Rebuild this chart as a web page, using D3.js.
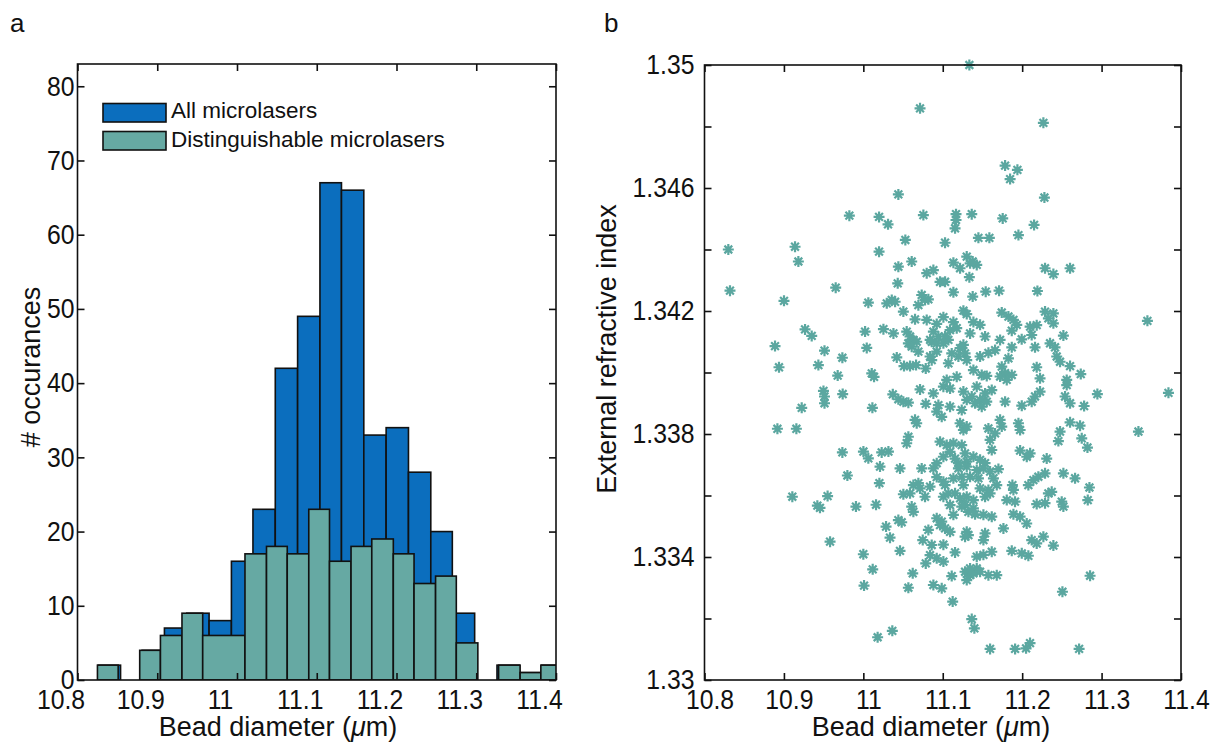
<!DOCTYPE html>
<html><head><meta charset="utf-8">
<script src="https://cdn.jsdelivr.net/npm/d3@7"></script>
<style>
body{margin:0;background:#fff}
text{font-family:"Liberation Sans",Arial,Helvetica,sans-serif;fill:#111}
</style>
</head><body>
<svg id="chart" width="1218" height="747"></svg>
<script>
// ---------- DATA ----------
const blueEdges = [10.826,10.854,10.881,10.909,10.937,10.965,10.993,11.020,11.048,11.076,11.104,11.131,11.159,11.187,11.215,11.243,11.270,11.298,11.326,11.354,11.382,11.409];
const blueCounts = [2,0,4,7,9,8,16,23,42,49,67,66,33,34,28,20,9,0,2,1,2];
const tealEdges = [10.825,10.851,10.878,10.904,10.931,10.957,11.010,11.037,11.063,11.090,11.116,11.143,11.169,11.196,11.222,11.249,11.275,11.302,11.328,11.355,11.381,11.408];
const tealCounts = [2,0,4,6,9,6,17,18,17,23,16,18,19,17,13,14,5,0,2,1,2];
const legendLabels = ["All microlasers","Distinguishable microlasers"];
const xTicks = [10.8,10.9,11,11.1,11.2,11.3,11.4];
const histYTicks = [0,10,20,30,40,50,60,70,80];
const scatYTicks = [1.33,1.332,1.334,1.336,1.338,1.34,1.342,1.344,1.346,1.348,1.35];
const scatYLabeled = [1.33,1.334,1.338,1.342,1.346,1.35];
const scatterPoints = [
[11.0714,1.34859],[11.0441,1.34579],[10.9824,1.3451],[11.0198,1.34506],[11.0311,1.34482],[11.0756,1.34512],[11.0529,1.34431],[10.830,1.3440],[10.914,1.34409],[11.0198,1.34393],
[11.1335,1.35],[11.2267,1.34812],[11.1785,1.34673],[11.194,1.34659],[11.1848,1.34629],[11.228,1.34569],[11.1167,1.34515],[11.1167,1.34496],[11.1155,1.34469],[11.1365,1.34515],[11.1755,1.34501],[11.215,1.3448],[11.1953,1.34447],[11.1449,1.34438],[11.1587,1.34438],[11.1029,1.34422],[11.1302,1.34377],
[10.9182,1.34361],[10.8321,1.34266],[10.9001,1.34233],[10.9652,1.34276],[11.0063,1.34227],[11.0441,1.34344],[11.0609,1.34361],[11.0433,1.3429],[11.0798,1.34323],[11.0295,1.34225],[11.0358,1.34236],[11.04,1.3423],[11.0735,1.34252],[11.0777,1.34236],[11.0819,1.34238],[11.0693,1.34219],[11.0504,1.34198],[11.0651,1.34173],[11.0798,1.34171],[10.9266,1.3414],[10.935,1.34119],[10.8888,1.34086],[11.0022,1.34133],[11.0253,1.34141],[11.0379,1.34127],
[11.0546,1.34133],[11.0588,1.34117],[11.063,1.34106],[11.0672,1.341],[11.0567,1.34095],[11.0609,1.34084],[11.0693,1.34068],[11.0841,1.34106],
[11.0043,1.3408],[10.9511,1.34071],[10.9736,1.34048],[10.8938,1.34017],[10.9434,1.34024],[11.0421,1.34049],[11.0512,1.34021],[11.0588,1.34021],[11.0664,1.34024],[11.0786,1.34013],[11.0861,1.3404],[10.9677,1.3399],[11.0106,1.33997],[11.0135,1.33986],[10.9498,1.3394],[10.9511,1.33922],[10.9511,1.339],[10.974,1.3393],[10.9224,1.33885],[11.0114,1.33885],[11.0371,1.33929],[11.0441,1.33913],[11.0504,1.33905],[11.0567,1.33902],[11.0714,1.33945],[11.0786,1.33898],[10.8918,1.33817],[10.9157,1.33817],[11.0651,1.33846],[11.0672,1.33835],[11.0567,1.33791],[11.0546,1.3377],[10.9736,1.3374],[11.0001,1.33743],[11.0063,1.33721],[11.0231,1.3374],[11.0316,1.33743],
[11.1134,1.34357],[11.1218,1.34339],[11.1344,1.34355],[11.1428,1.3435],[11.1377,1.34361],[11.0882,1.34333],[11.2288,1.34339],[11.2393,1.3432],[11.2603,1.34339],[11.0966,1.34295],[11.1029,1.34295],[11.1335,1.3431],
[11.1134,1.34261],[11.1377,1.34247],[11.1541,1.34263],[11.1709,1.34266],[11.2192,1.34265],
[11.126,1.34201],[11.1302,1.3419],[11.1743,1.34195],[11.1827,1.34182],[11.189,1.34171],[11.2288,1.34198],[11.2393,1.34192],[11.233,1.34176],[11.2393,1.3416],[11.1008,1.3418],[11.1134,1.34164],[11.0924,1.34158],[11.1386,1.34164],[11.147,1.34155],[11.3577,1.34168],
[11.0882,1.34133],[11.0945,1.34117],[11.0861,1.341],[11.1008,1.34095],[11.1092,1.34138],[11.1176,1.34144],[11.1344,1.34127],[11.1533,1.34117],[11.1722,1.34106],[11.1869,1.34136],[11.1994,1.34108],[11.212,1.34122],[11.2183,1.34154],[11.2519,1.3412],[11.2351,1.34095],[11.2414,1.34082],[11.2162,1.34082],
[11.1218,1.34079],[11.1281,1.34062],[11.1197,1.34052],[11.1302,1.3404],[11.0924,1.34068],[11.084,1.34052],[11.147,1.34052],[11.1575,1.34064],[11.1659,1.34073],[11.1869,1.34082],[11.1827,1.34046],[11.2435,1.34052],[11.2477,1.34035],[11.2603,1.34021],[11.1071,1.3403],
[11.1386,1.34008],[11.1491,1.33992],[11.1554,1.33989],[11.1743,1.34019],[11.1785,1.33998],[11.1869,1.33992],[11.1722,1.33987],[11.1806,1.33976],[11.2183,1.34017],[11.2225,1.33981],[11.2738,1.33995],[11.1176,1.33986],[11.105,1.33976],[11.1008,1.33954],[11.1092,1.33948],[11.0882,1.33932],[11.2561,1.33959],[11.2561,1.33976],
[11.126,1.33938],[11.1365,1.33922],[11.147,1.33911],[11.1533,1.33932],[11.1617,1.33943],[11.1407,1.339],[11.1491,1.33889],[11.1785,1.33905],[11.1995,1.33892],[11.2162,1.33922],[11.212,1.33905],[11.2225,1.33938],[11.254,1.33922],[11.2603,1.339],[11.278,1.33891],[11.2947,1.3393],[11.3842,1.33934],[11.0945,1.33894],[11.0924,1.33873],[11.1239,1.33878],[11.1092,1.33889],
[11.0987,1.33856],[11.1218,1.33835],[11.126,1.33813],[11.1302,1.33824],[11.1575,1.33818],[11.1659,1.33802],[11.1722,1.33846],[11.1743,1.33824],[11.1953,1.33835],[11.1974,1.33813],[11.2603,1.33838],[11.2729,1.33827],[11.3464,1.33808],[11.2477,1.33808],[11.2456,1.33777],[11.275,1.33786],[11.2822,1.33756],
[11.0966,1.33775],[11.105,1.33764],[11.1134,1.3377],[11.1239,1.33764],[11.1092,1.33742],[11.1596,1.33781],[11.1617,1.33748],[11.1974,1.33746],[11.2058,1.33726],[11.21,1.33737],[11.2309,1.3372],[11.0924,1.33705],[11.1197,1.33705],[11.1302,1.3371],[11.147,1.33716],[11.1533,1.33705],
[10.9799,1.33665],[11.021,1.33694],[11.0462,1.33688],[11.0735,1.33688],[11.0202,1.3364],[10.9106,1.33596],[10.955,1.33598],[10.9421,1.33567],[10.9454,1.3356],[10.9907,1.33564],[11.016,1.3357],[11.0504,1.33604],[11.0588,1.33607],[11.063,1.33634],[11.0693,1.3364],[11.0714,1.33623],[11.0777,1.33596],[11.0609,1.33564],[11.063,1.33547],[11.0286,1.33499],[11.0336,1.33463],[11.0441,1.3352],[11.0483,1.33513],[10.9581,1.3345],[11.0,1.33409],[11.0462,1.3342],[11.0118,1.3336],[11.0009,1.33307],[11.0622,1.33347],[11.0567,1.333],[11.0748,1.33455],[11.0819,1.33488],[11.0786,1.33379],[11.018,1.33139],[11.0365,1.3316],
[11.0924,1.3366],[11.1008,1.33645],[11.1197,1.33688],[11.1302,1.33694],[11.1428,1.33683],[11.1512,1.33688],[11.1596,1.33678],[11.1701,1.33686],[11.1134,1.33656],[11.1239,1.33661],[11.1344,1.33661],[11.1449,1.33656],[11.1638,1.33656],[11.084,1.33629],[11.1029,1.33634],[11.1155,1.33607],[11.1218,1.33591],[11.1302,1.33596],[11.1386,1.33585],[11.1281,1.33569],[11.1386,1.33558],[11.1008,1.33596],[11.1575,1.33618],[11.1596,1.33607],[11.1877,1.33634],[11.189,1.33618],[11.1806,1.33585],[11.191,1.3358],[11.2078,1.33634],[11.2141,1.3365],[11.2204,1.33661],[11.2288,1.33672],[11.2519,1.33672],[11.2666,1.33656],[11.2847,1.33626],[11.2826,1.33585],[11.2372,1.33612],[11.233,1.33607],[11.2183,1.33572],[11.2288,1.33575],[11.2498,1.3358],[11.2519,1.33564],[11.189,1.33539],[11.1974,1.33531],[11.2057,1.33509],[11.1512,1.33537],[11.1617,1.33531],[11.1407,1.33539],[11.0924,1.33526],[11.0966,1.33504],[11.1029,1.33493],[11.1092,1.33482],[11.1134,1.33537],[11.1764,1.33493],[11.1302,1.33482],[11.1323,1.33471],[11.1281,1.33466],[11.1533,1.33477],[11.1512,1.33455],[11.212,1.33455],[11.2183,1.33444],[11.2267,1.33466],[11.2393,1.33437],[11.1008,1.3344],[11.0861,1.33439],[11.084,1.33406],[11.0924,1.33396],[11.1008,1.33385],[11.1155,1.33415],[11.1428,1.33401],[11.1512,1.33407],[11.1617,1.33417],[11.1869,1.3342],[11.1995,1.33412],[11.2078,1.33404],[11.1113,1.33338],[11.1281,1.33352],[11.1344,1.33341],[11.1428,1.33363],[11.1302,1.33325],[11.1386,1.33347],[11.1575,1.33341],[11.168,1.33341],[11.0882,1.33309],[11.0987,1.33298],[11.2855,1.33339],[11.2507,1.33287],[11.1125,1.33255],[11.1365,1.33198],[11.1398,1.33168],[11.1596,1.33101],[11.1911,1.33101],[11.2049,1.33103],[11.2099,1.3312],[11.2717,1.33101],
[11.126,1.33634],[11.147,1.33623],[11.1533,1.33596],[11.1239,1.33564],[11.1323,1.33547],[11.1092,1.33569],[11.1071,1.33607],[11.168,1.33634],[11.1344,1.33363],[11.147,1.33352],[11.1029,1.34117],[11.0924,1.34095],[11.1071,1.34106],[11.1113,1.34062],[11.126,1.3409],[11.1302,1.33911],[11.1554,1.33905],[11.1428,1.33954],[11.1008,1.33726],[11.1155,1.3372],[11.1386,1.33726],[11.1281,1.33737],[11.1932,1.34155],[11.21,1.34149],[11.0987,1.33515],[11.0882,1.33688]
];

// ---------- STYLE ----------
const BLUE = "#0b6ebe", TEAL = "#66a9a3", STAR = "#5ba7a0";
const svg = d3.select("#chart");
const TICK = 7, TFS = 27.5, SX = 0.9;   // tick font size, horizontal condense

function frame(g, x, y, yTicks, yLabeled, yFmt, yPad, xLabelDx) {
  const [x0, x1] = x.range(); const [y0, y1] = y.range();
  g.append("g").attr("transform", `translate(0,${y0})`)
    .call(d3.axisBottom(x).tickValues(xTicks).tickSize(-TICK).tickPadding(9).tickFormat(d3.format("")))
    .call(s => { s.select(".domain").remove();
      s.selectAll("text").style("font-size", TFS + "px").attr("x", xLabelDx / SX).attr("transform", `scale(${SX},1)`); });
  g.append("g").attr("transform", `translate(0,${y1})`)
    .call(d3.axisTop(x).tickValues(xTicks).tickSize(-TICK).tickFormat(""))
    .call(s => s.select(".domain").remove());
  g.append("g").attr("transform", `translate(${x0},0)`)
    .call(d3.axisLeft(y).tickValues(yTicks).tickSize(-TICK).tickPadding(yPad)
      .tickFormat(d => yLabeled.some(v => Math.abs(v - d) < 1e-9) ? yFmt(d) : ""))
    .call(s => { s.select(".domain").remove();
      s.selectAll("text").style("font-size", TFS + "px").attr("x", -yPad / SX).attr("transform", `scale(${SX},1)`); });
  g.append("g").attr("transform", `translate(${x1},0)`)
    .call(d3.axisRight(y).tickValues(yTicks).tickSize(-TICK).tickFormat(""))
    .call(s => s.select(".domain").remove());
  g.selectAll(".tick line").attr("stroke", "#111").attr("stroke-width", 1.6);
  g.selectAll(".tick text").attr("fill", "#111");
  g.append("rect").attr("x", x0).attr("y", y1).attr("width", x1 - x0).attr("height", y0 - y1)
    .attr("fill", "none").attr("stroke", "#111").attr("stroke-width", 1.6);
}

// ---------- PANEL A: histogram ----------
const xA = d3.scaleLinear().domain([10.8, 11.4]).range([77.5, 556]);
const yA = d3.scaleLinear().domain([0, 83]).range([680, 64]);
const gA = svg.append("g");
svg.append("clipPath").attr("id", "clipA").append("rect")
  .attr("x", 77.5).attr("y", 64).attr("width", 556 - 77.5).attr("height", 680 - 64);
const bars = gA.append("g").attr("clip-path", "url(#clipA)");
function drawHist(edges, counts, color) {
  const bins = counts.map((c, i) => ({ x0: edges[i], x1: edges[i + 1], c }));
  bars.append("g").selectAll("rect").data(bins.filter(b => b.c > 0)).join("rect")
    .attr("x", d => xA(d.x0)).attr("width", d => xA(d.x1) - xA(d.x0))
    .attr("y", d => yA(d.c)).attr("height", d => yA(0) - yA(d.c))
    .attr("fill", color).attr("stroke", "#111").attr("stroke-width", 1.6);
}
drawHist(blueEdges, blueCounts, BLUE);
drawHist(tealEdges, tealCounts, TEAL);
frame(gA, xA, yA, histYTicks, histYTicks, d3.format("d"), 3, -17);

// legend
const leg = gA.append("g");
[BLUE, TEAL].forEach((c, i) => {
  leg.append("rect").attr("x", 103).attr("y", 103.5 + i * 28).attr("width", 63).attr("height", 18.5)
    .attr("fill", c).attr("stroke", "#111").attr("stroke-width", 1.6);
  leg.append("text").attr("x", 171).attr("y", 117.5 + i * 29.5).style("font-size", "22.5px").text(legendLabels[i]);
});

gA.append("text").attr("x", 278).attr("y", 736).attr("text-anchor", "middle").style("font-size", "27px")
  .html('Bead diameter (<tspan font-style="italic">μ</tspan>m)');
gA.append("text").attr("transform", "translate(40,367) rotate(-90)").attr("text-anchor", "middle")
  .style("font-size", "27px").text("# occurances");
svg.append("text").attr("x", 10).attr("y", 32).style("font-size", "26px").text("a");

// ---------- PANEL B: scatter ----------
const xB = d3.scaleLinear().domain([10.8, 11.4]).range([704.5, 1181]);
const yB = d3.scaleLinear().domain([1.33, 1.35]).range([680, 65]);
const gB = svg.append("g");
const r = 5.5, d2 = r * Math.SQRT1_2;
const starPath = `M${-r},0L${r},0M0,${-r}L0,${r}M${-d2},${-d2}L${d2},${d2}M${-d2},${d2}L${d2},${-d2}`;
gB.append("g").selectAll("path").data(scatterPoints).join("path")
  .attr("transform", d => `translate(${xB(d[0])},${yB(d[1])})`)
  .attr("d", starPath).attr("stroke", STAR).attr("stroke-width", 2.2).attr("fill", "none");
frame(gB, xB, yB, scatYTicks, scatYLabeled, d => d3.format("")(+d.toFixed(3)), 10, 5);

gB.append("text").attr("x", 931).attr("y", 736).attr("text-anchor", "middle").style("font-size", "27px")
  .html('Bead diameter (<tspan font-style="italic">μ</tspan>m)');
gB.append("text").attr("transform", "translate(616,349) rotate(-90)").attr("text-anchor", "middle")
  .style("font-size", "27px").text("External refractive index");
svg.append("text").attr("x", 604).attr("y", 32).style("font-size", "26px").text("b");
</script>
</body></html>
